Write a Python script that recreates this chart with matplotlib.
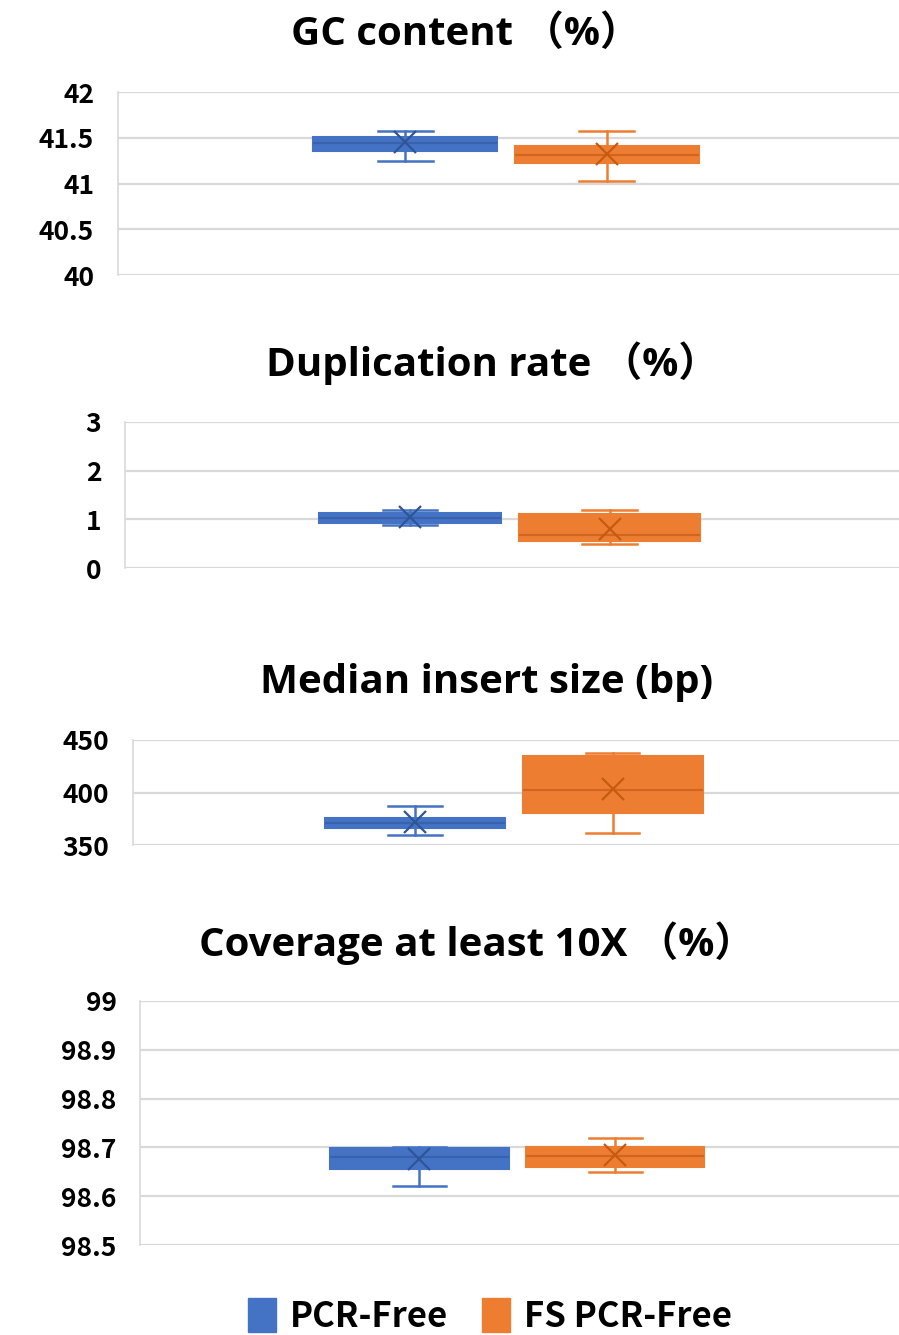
import matplotlib
matplotlib.use("Agg")
import matplotlib.pyplot as plt
from matplotlib.patches import Patch

# series
groups = ["PCR-Free", "FS PCR-Free"]
colors = ["#4472C4", "#ED7D31"]
dark = ["#2F5597", "#C55A11"]
medcol = ["#3A62AC", "#D0651F"]

titles = ["GC content （%）", "Duplication rate （%）",
          "Median insert size (bp)", "Coverage at least 10X （%）"]

# per panel: [PCR-Free, FS PCR-Free]
whislo = [[41.25, 41.03], [0.88, 0.50], [360.0, 361.5], [98.621, 98.650]]
q1 = [[41.36, 41.22], [0.93, 0.55], [366.5, 380.5], [98.656, 98.659]]
med = [[41.44, 41.31], [1.03, 0.68], [371.0, 402.5], [98.681, 98.682]]
q3 = [[41.51, 41.41], [1.13, 1.10], [376.0, 434.5], [98.699, 98.701]]
whishi = [[41.57, 41.57], [1.20, 1.20], [387.0, 438.0], [98.701, 98.720]]
means = [[41.45, 41.32], [1.04, 0.80], [372.0, 403.0], [98.677, 98.685]]

yticks = [[40, 40.5, 41, 41.5, 42], [0, 1, 2, 3],
          [350, 400, 450], [98.5, 98.6, 98.7, 98.8, 98.9, 99]]
yticklabels = [["40", "40.5", "41", "41.5", "42"], ["0", "1", "2", "3"],
               ["350", "400", "450"], ["98.5", "98.6", "98.7", "98.8", "98.9", "99"]]

# layout (figure fractions)
axes_rects = [[0.131, 0.794, 0.869, 0.137],
              [0.139, 0.5745, 0.861, 0.1094],
              [0.148, 0.367, 0.852, 0.0787],
              [0.156, 0.0674, 0.844, 0.1828]]
title_pos = [(0.518, 1 - 34 / 1335), (0.548, 1 - 363 / 1335),
             (0.541, 1 - 683 / 1335), (0.53, 1 - 943 / 1335)]

tick_font = ["Noto Sans CJK SC", "DejaVu Sans"]
title_font = ["Open Sans", "Noto Sans CJK SC", "DejaVu Sans"]

fig = plt.figure(figsize=(8.99, 13.35), dpi=100)

for p in range(4):
    ax = fig.add_axes(axes_rects[p])
    for g in range(2):
        st = dict(med=med[p][g], q1=q1[p][g], q3=q3[p][g],
                  whislo=whislo[p][g], whishi=whishi[p][g],
                  mean=means[p][g], fliers=[])
        ax.bxp([st], positions=[0.368 + 0.258 * g], widths=0.235,
               capwidths=0.07, patch_artist=True, showmeans=True,
               boxprops=dict(facecolor=colors[g], edgecolor=colors[g], linewidth=1.5),
               medianprops=dict(color=medcol[g], linewidth=1.5),
               whiskerprops=dict(color=colors[g], linewidth=1.8),
               capprops=dict(color=colors[g], linewidth=1.8),
               meanprops=dict(marker="x", markeredgecolor=dark[g], markersize=16,
                              markeredgewidth=1.6),
               zorder=3)
    ax.set_xlim(0, 1)
    ax.set_ylim(yticks[p][0], yticks[p][-1])
    ax.set_yticks(yticks[p])
    ax.set_yticklabels(yticklabels[p], family=tick_font, fontsize=19, fontweight="bold")
    ax.set_xticks([])
    ax.tick_params(axis="y", length=0, pad=17)
    ax.grid(axis="y", color="#D9D9D9", linewidth=1.6)
    ax.set_axisbelow(True)
    for s in ["top", "right", "bottom"]:
        ax.spines[s].set_visible(False)
    ax.spines["left"].set_color("#D9D9D9")
    ax.spines["left"].set_linewidth(1.2)
    fig.text(title_pos[p][0], title_pos[p][1], titles[p], ha="center", va="center",
             family=title_font, fontsize=29, fontweight="bold")

handles = [Patch(facecolor=colors[g], edgecolor=colors[g]) for g in range(2)]
fig.legend(handles, groups, loc="center", bbox_to_anchor=(0.545, 1 - 1316 / 1335),
           ncol=2, frameon=False, prop=dict(family=tick_font, size=25, weight="bold"),
           handlelength=0.8, handleheight=1.1, handletextpad=0.4, columnspacing=1.0)

fig.savefig("out.png", dpi=100)
